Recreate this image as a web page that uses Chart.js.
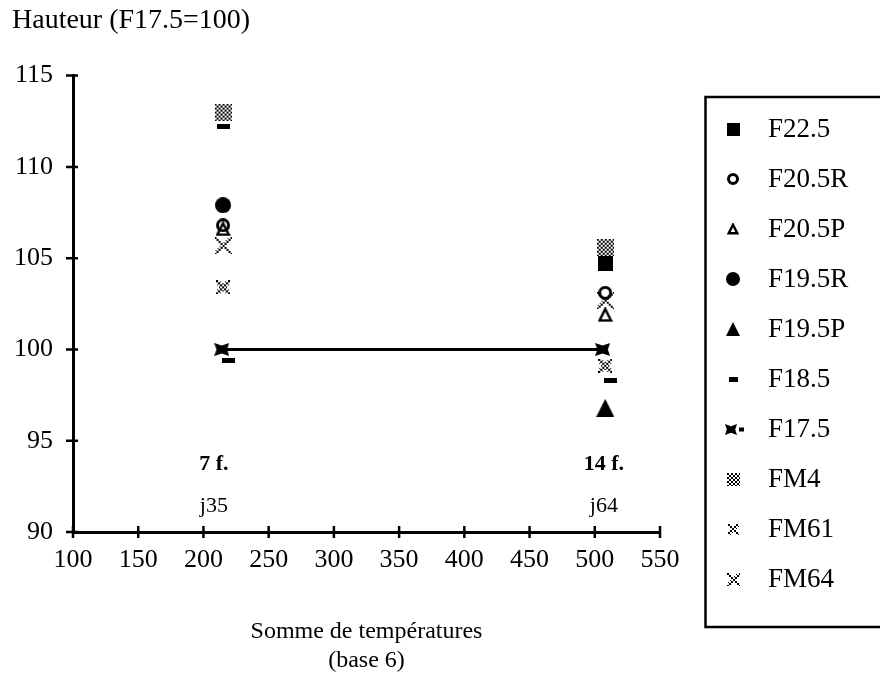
<!DOCTYPE html>
<html>
<head>
<meta charset="utf-8">
<script src="https://cdn.jsdelivr.net/npm/chart.js@4/dist/chart.umd.min.js"></script>
<style>
  html, body { margin: 0; padding: 0; background: #fff; }
  #wrap { width: 880px; height: 678px; }
</style>
</head>
<body>
<div id="wrap"><canvas id="graph"></canvas></div>
<script>
// series names (legend order)
const seriesNames = ["F22.5", "F20.5R", "F20.5P", "F19.5R", "F19.5P", "F18.5", "F17.5", "FM4", "FM61", "FM64"];

// somme de temperatures (x) and hauteur (y), one pair of arrays per series
const xF225 = [508];            const yF225 = [104.7];
const xF205R = [215, 508];      const yF205R = [106.8, 103.1];
const xF205P = [215, 508];      const yF205P = [106.6, 101.9];
const xF195R = [215];           const yF195R = [107.9];
const xF195P = [508];           const yF195P = [96.8];
const xF185 = [215, 219, 512];  const yF185 = [112.2, 99.4, 98.3];
const xF175 = [214, 506];       const yF175 = [100, 100];
const xFM4 = [215, 508];        const yFM4 = [113.0, 105.6];
const xFM61 = [215, 508];       const yFM61 = [103.4, 99.1];
const xFM64 = [215, 508];       const yFM64 = [105.7, 102.7];

// stage annotations
const stageLabels = ["7 f.", "14 f."];
const dayLabels = ["j35", "j64"];
const stageX = [208, 507];

const xs = [xF225, xF205R, xF205P, xF195R, xF195P, xF185, xF175, xFM4, xFM61, xFM64];
const ys = [yF225, yF205R, yF205P, yF195R, yF195P, yF185, yF175, yFM4, yFM61, yFM64];

const serif = '"Liberation Serif", "Times New Roman", serif';

function makeMarker(w, h, draw) {
    const c = document.createElement('canvas');
    c.width = w;
    c.height = h;
    const ctx = c.getContext('2d');
    ctx.fillStyle = '#000';
    ctx.strokeStyle = '#000';
    draw(ctx, w, h);
    return c;
}

function square(s) {
    return makeMarker(s, s, (ctx) => ctx.fillRect(0, 0, s, s));
}
function ring(s, lw) {
    return makeMarker(s, s, (ctx) => {
        ctx.lineWidth = lw;
        ctx.beginPath();
        ctx.arc(s / 2, s / 2, s / 2 - lw / 2, 0, Math.PI * 2);
        ctx.stroke();
    });
}
function disc(s) {
    return makeMarker(s, s, (ctx) => {
        ctx.beginPath();
        ctx.arc(s / 2, s / 2, s / 2, 0, Math.PI * 2);
        ctx.fill();
    });
}
function triangle(s, lw) {
    return makeMarker(s, s, (ctx) => {
        const m = lw ? lw / 2 + 0.5 : 0;
        ctx.beginPath();
        ctx.moveTo(s / 2, m);
        ctx.lineTo(s - m, s - m);
        ctx.lineTo(m, s - m);
        ctx.closePath();
        if (lw) {
            ctx.lineWidth = lw;
            ctx.stroke();
        } else {
            ctx.fill();
        }
    });
}
function dash(w, h) {
    return makeMarker(w, h, (ctx) => ctx.fillRect(0, 0, w, h));
}
// chunky X (square with a notch cut in each side), optional trailing dash for the legend
function bowtie(w, h, tail) {
    const tw = tail ? w + 7 : w;
    return makeMarker(tw, h, (ctx) => {
        ctx.beginPath();
        ctx.moveTo(0, 0); ctx.lineTo(w / 2, h * 0.2); ctx.lineTo(w, 0);
        ctx.lineTo(w * 0.85, h / 2); ctx.lineTo(w, h); ctx.lineTo(w / 2, h * 0.8);
        ctx.lineTo(0, h); ctx.lineTo(w * 0.15, h / 2);
        ctx.closePath();
        ctx.fill();
        if (tail) ctx.fillRect(w + 2, h / 2 - 2, 5, 4);
    });
}
function stippleSquare(s) {
    return makeMarker(s, s, (ctx) => {
        for (let i = 0; i < s; i++) {
            for (let j = 0; j < s; j++) {
                if (((i >> 1) + (j >> 1)) % 2 === 0) ctx.fillRect(i, j, 1, 1);
            }
        }
    });
}
function stippleX(s, band) {
    return makeMarker(s, s, (ctx) => {
        for (let i = 0; i < s; i++) {
            for (let j = 0; j < s; j++) {
                const d = Math.min(Math.abs(i - j), Math.abs(i + j - (s - 1)));
                if (d <= band && ((i >> 1) + (j >> 1)) % 2 === 0) ctx.fillRect(i, j, 1, 1);
            }
        }
    });
}

const plotMarkers = [
    square(15), ring(14, 3), triangle(15, 2.5), disc(16), triangle(18, 0),
    dash(13, 5), bowtie(15, 13, false), stippleSquare(17), stippleX(14, 3), stippleX(17, 2)
];
const legendMarkers = [
    square(13), ring(12, 3), triangle(12, 2.5), disc(14), triangle(14, 0),
    dash(9, 5), bowtie(12, 11, true), stippleSquare(13), stippleX(11, 2), stippleX(13, 2)
];

const datasets = seriesNames.map((name, i) => ({
    label: name,
    data: xs[i].map((x, k) => ({x: x, y: ys[i][k]})),
    pointStyle: plotMarkers[i],
    showLine: name === "F17.5",
    borderColor: '#000',
    borderWidth: 3,
    backgroundColor: '#000'
}));

const crossTicks = {
    id: 'crossTicks',
    afterDraw(chart) {
        const {ctx, chartArea, scales} = chart;
        ctx.save();
        ctx.strokeStyle = '#000';
        ctx.lineWidth = 2.5;
        ctx.beginPath();
        scales.x.ticks.forEach(t => {
            const px = scales.x.getPixelForValue(t.value);
            ctx.moveTo(px, chartArea.bottom - 6);
            ctx.lineTo(px, chartArea.bottom + 6);
        });
        scales.y.ticks.forEach(t => {
            const py = scales.y.getPixelForValue(t.value);
            ctx.moveTo(chartArea.left - 7, py);
            ctx.lineTo(chartArea.left + 5, py);
        });
        ctx.stroke();
        ctx.restore();
    }
};

const stageText = {
    id: 'stageText',
    afterDraw(chart) {
        const {ctx, scales} = chart;
        ctx.save();
        ctx.fillStyle = '#000';
        ctx.textAlign = 'center';
        ctx.textBaseline = 'middle';
        stageLabels.forEach((t, i) => {
            ctx.font = 'bold 22px ' + serif;
            ctx.fillText(t, scales.x.getPixelForValue(stageX[i]), scales.y.getPixelForValue(93.7));
            ctx.font = '22px ' + serif;
            ctx.fillText(dayLabels[i], scales.x.getPixelForValue(stageX[i]), scales.y.getPixelForValue(91.4));
        });
        ctx.restore();
    }
};

const legendBox = {
    id: 'legendBox',
    afterDraw(chart) {
        const ctx = chart.ctx;
        ctx.save();
        ctx.strokeStyle = '#000';
        ctx.lineWidth = 2.5;
        ctx.strokeRect(705.5, 97, 200, 530);
        ctx.fillStyle = '#000';
        ctx.font = '27px ' + serif;
        ctx.textBaseline = 'middle';
        seriesNames.forEach((name, i) => {
            const y = 129 + 50 * i;
            const m = legendMarkers[i];
            const left = name === "F17.5" ? 725 : Math.round(733 - m.width / 2);
            ctx.drawImage(m, left, Math.round(y - m.height / 2));
            ctx.fillText(name, 768, y + 1);
        });
        ctx.restore();
    }
};

new Chart("graph", {
    type: 'scatter',
    data: {datasets: datasets},
    options: {
        responsive: true,
        maintainAspectRatio: false,
        animation: false,
        layout: {padding: {left: 12, right: 220, top: 0, bottom: 0}},
        plugins: {
            legend: {display: false},
            tooltip: {enabled: false},
            title: {
                display: true,
                text: 'Hauteur (F17.5=100)',
                align: 'start',
                color: '#000',
                font: {family: serif, size: 28, weight: 'normal'},
                padding: {top: 4, bottom: 38}
            }
        },
        scales: {
            x: {
                type: 'linear',
                min: 100,
                max: 550,
                grid: {display: false, drawTicks: false},
                border: {display: true, color: '#000', width: 3},
                ticks: {stepSize: 50, color: '#000', padding: 13, maxRotation: 0,
                        font: {family: serif, size: 26}},
                title: {display: true, text: ['Somme de températures', '(base 6)'], color: '#000',
                        font: {family: serif, size: 24}, padding: {top: 0, bottom: 3}},
                afterFit(scale) { scale.height = 146; }
            },
            y: {
                min: 90,
                max: 115,
                grid: {display: false, drawTicks: false},
                border: {display: true, color: '#000', width: 3},
                ticks: {stepSize: 5, color: '#000', padding: 20,
                        font: {family: serif, size: 26}},
                afterFit(scale) { scale.width = 61; }
            }
        }
    },
    plugins: [crossTicks, stageText, legendBox]
});
</script>
</body>
</html>
